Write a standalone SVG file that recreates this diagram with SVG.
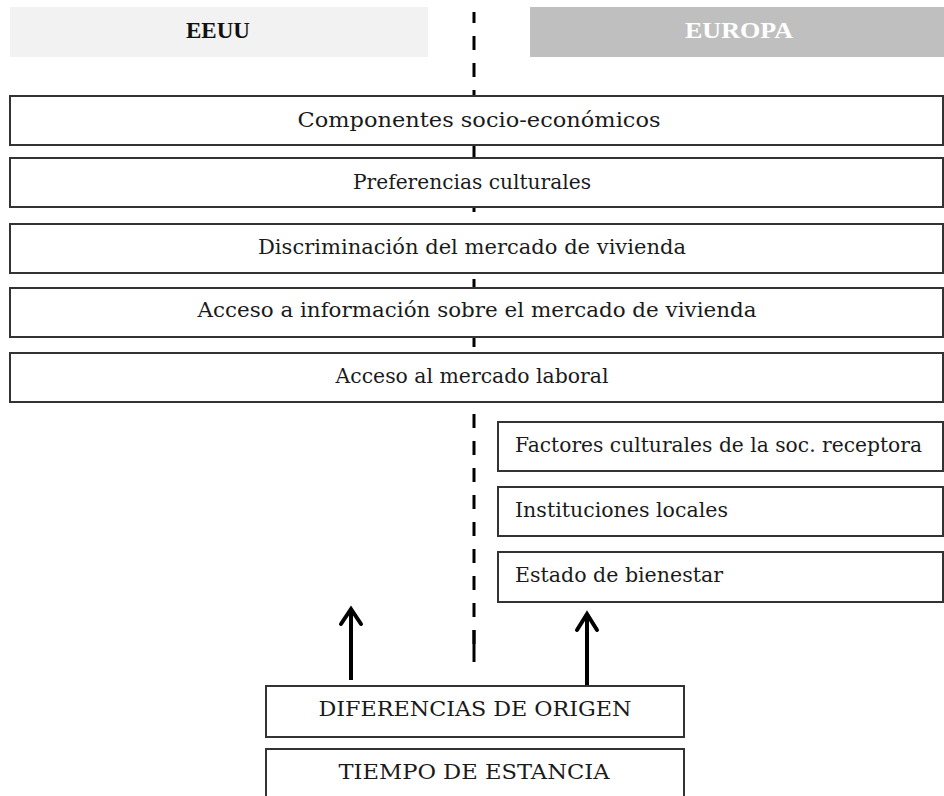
<svg xmlns="http://www.w3.org/2000/svg" width="944" height="796" viewBox="0 0 944 796">
<style>
.box{fill:#fff;stroke:#333;stroke-width:2}
.t{font-family:"DejaVu Serif","Liberation Serif",serif;font-size:20px;fill:#1a1a1a}
.c{text-anchor:middle}
.h{font-family:"Liberation Serif",serif;font-weight:bold;font-size:24px;text-anchor:middle}
.arr{stroke:#000;stroke-width:4;fill:none}
</style>
<rect width="944" height="796" fill="#fff"/>
<g id="header-eeuu">
<rect x="10" y="7" width="418" height="50" fill="#f2f2f2"/>
<text class="h" x="218" y="38" fill="#111" textLength="64" lengthAdjust="spacingAndGlyphs">EEUU</text>
</g>
<g id="header-europa">
<rect x="530" y="7" width="414" height="50" fill="#bfbfbf"/>
<text class="h" x="739" y="38" fill="#fff" textLength="108" lengthAdjust="spacingAndGlyphs">EUROPA</text>
</g>
<g id="connectors">
<line x1="474" y1="644" x2="474" y2="12" stroke="#000" stroke-width="3" stroke-dasharray="14 13"/>
<line x1="474" y1="630" x2="474" y2="662" stroke="#000" stroke-width="3"/>
<line class="arr" x1="351" y1="680" x2="351" y2="610"/>
<polyline class="arr" points="341,624 351,609 361,624" stroke-linecap="round"/>
<line class="arr" x1="587" y1="686" x2="587" y2="615"/>
<polyline class="arr" points="577,630 587,614 597,630" stroke-linecap="round"/>
</g>
<g id="n-componentes">
<rect class="box" x="10" y="96" width="933" height="49"/>
<text class="t c" x="479" y="127" textLength="363" lengthAdjust="spacingAndGlyphs">Componentes  socio-económicos</text>
</g>
<g id="n-preferencias">
<rect class="box" x="10" y="158" width="933" height="49"/>
<text class="t c" x="472" y="189" textLength="238" lengthAdjust="spacingAndGlyphs">Preferencias culturales</text>
</g>
<g id="n-discriminacion">
<rect class="box" x="10" y="224" width="933" height="49"/>
<text class="t c" x="472" y="254" textLength="428" lengthAdjust="spacingAndGlyphs">Discriminación del mercado de vivienda</text>
</g>
<g id="n-acceso-info">
<rect class="box" x="10" y="288" width="933" height="49"/>
<text class="t c" x="477" y="317" textLength="559" lengthAdjust="spacingAndGlyphs">Acceso a información sobre el mercado de vivienda</text>
</g>
<g id="n-acceso-laboral">
<rect class="box" x="10" y="353" width="933" height="49"/>
<text class="t c" x="472" y="383" textLength="273" lengthAdjust="spacingAndGlyphs">Acceso al mercado laboral</text>
</g>
<g id="n-factores">
<rect class="box" x="498" y="422" width="445" height="49"/>
<text class="t" x="515" y="452" textLength="407" lengthAdjust="spacingAndGlyphs">Factores culturales de la soc. receptora</text>
</g>
<g id="n-instituciones">
<rect class="box" x="498" y="487" width="445" height="49"/>
<text class="t" x="515" y="517" textLength="213" lengthAdjust="spacingAndGlyphs">Instituciones locales</text>
</g>
<g id="n-estado">
<rect class="box" x="498" y="552" width="445" height="50"/>
<text class="t" x="515" y="582" textLength="208" lengthAdjust="spacingAndGlyphs">Estado de bienestar</text>
</g>
<g id="n-diferencias">
<rect class="box" x="266" y="686" width="418" height="51"/>
<text class="t c" x="475" y="716" textLength="313" lengthAdjust="spacingAndGlyphs">DIFERENCIAS DE ORIGEN</text>
</g>
<g id="n-tiempo">
<rect class="box" x="266" y="749" width="418" height="60"/>
<text class="t c" x="474" y="779" textLength="271" lengthAdjust="spacingAndGlyphs">TIEMPO DE ESTANCIA</text>
</g>
</svg>
